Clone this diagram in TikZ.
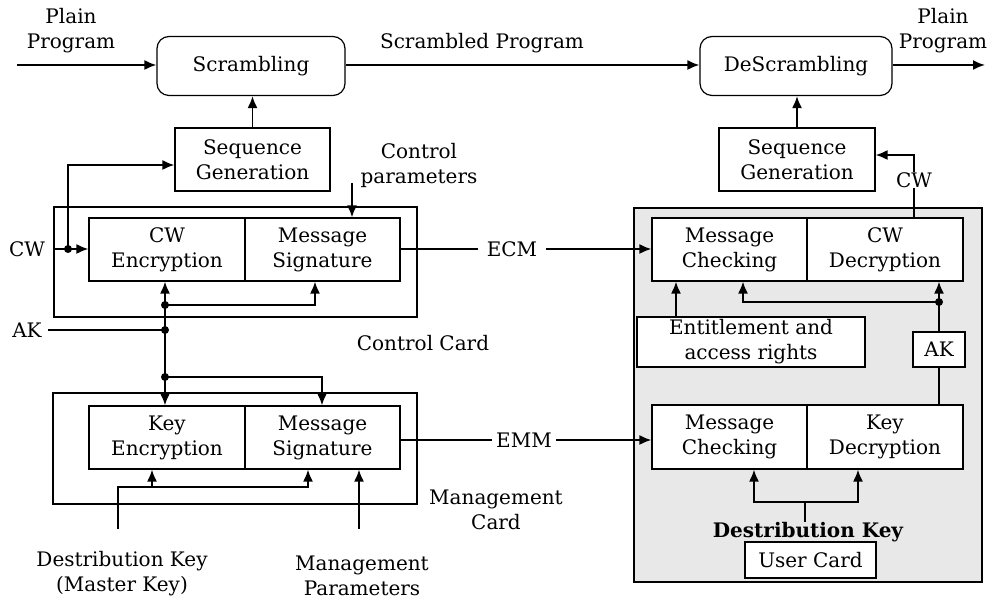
\documentclass[tikz,border=0pt]{standalone}
\usepackage{fontspec}
\setmainfont{DejaVu Serif}
\usetikzlibrary{arrows.meta}
\begin{document}
\begin{tikzpicture}[x=0.5pt,y=-0.5pt,
  every node/.style={font=\fontsize{10}{12.5}\selectfont, inner sep=0pt, align=center},
  box/.style 2 args={draw, line width=0.6pt, fill=white, minimum width=#1*0.5pt, minimum height=#2*0.5pt},
  rbox/.style 2 args={box={#1}{#2}, rounded corners=6pt},
  cardframe/.style 2 args={draw, line width=0.8pt, minimum width=#1*0.5pt, minimum height=#2*0.5pt},
  conn/.style={line width=0.9pt},
  arr/.style={conn, -{Latex[length=6pt,width=5pt]}},
  jdot/.style={circle, fill, inner sep=0pt, minimum size=4pt}
]
\useasboundingbox (0,0) rectangle (991,603);
% card frames
\node[cardframe={363}{110}] (ccard) at (235.5,262) {};
\node[cardframe={364}{111}] (mcard) at (235,448.5) {};
\node[cardframe={348}{374}, fill=black!9] (ucard) at (808,395) {};
% boxes
\node[rbox={188}{59}] (scr) at (251,66) {Scrambling};
\node[rbox={192}{59}] (descr) at (796,66) {DeScrambling};
\node[box={155}{63}] (seqL) at (252.5,159.5) {Sequence\\Generation};
\node[box={156}{63}] (seqR) at (797,159.5) {Sequence\\Generation};
\node[box={156}{63}] (cwenc) at (167,249.5) {CW\\Encryption};
\node[box={155}{63}] (msig1) at (322.5,249.5) {Message\\Signature};
\node[box={156}{63}] (keyenc) at (167,437.5) {Key\\Encryption};
\node[box={155}{63}] (msig2) at (322.5,437.5) {Message\\Signature};
\node[box={155}{63}] (mchk1) at (729.5,249.5) {Message\\Checking};
\node[box={156}{63}] (cwdec) at (885,249.5) {CW\\Decryption};
\node[box={228}{50}] (ent) at (751,342) {Entitlement and\\access rights};
\node[box={52}{35}] (akb) at (939,349.5) {AK};
\node[box={155}{64}] (mchk2) at (729.5,437) {Message\\Checking};
\node[box={156}{64}] (keydec) at (885,437) {Key\\Decryption};
\node[box={131}{36}] (ucb) at (810.5,560) {User Card};
% labels
\node (plainL) at (71,31) {Plain\\Program};
\node (scrp) at (482,43) {Scrambled Program};
\node (plainR) at (943,31) {Plain\\Program};
\node (ctrlp) at (419,165) {Control\\parameters};
\node (cwL) at (27,249) {CW};
\node (akL) at (27,330) {AK};
\node (ccl) at (423,343) {Control Card};
\node (mcl) at (496,510) {Management\\Card};
\node (ecm) at (512,249) {ECM};
\node (emm) at (524,440) {EMM};
\node (cwR) at (914,180) {CW};
\node (dkL) at (122,574) {Destribution Key\\(Master Key)};
\node (mpL) at (362,576) {Management\\Parameters};
\node[font=\fontsize{10}{12.5}\selectfont\bfseries] (dkR) at (808,532) {Destribution Key};
% coordinates
\coordinate (pin) at (17,65);
\coordinate (pout) at (985,65);
\coordinate (cwdot) at (68,249);
\coordinate (cwup) at (68,165);
\coordinate (cpTop) at (352,183);
\coordinate (akdot) at (165,330);
\coordinate (akd2) at (165,305);
\coordinate (akm1) at (315,305);
\coordinate (akd3) at (165,377);
\coordinate (akm2) at (322,377);
\coordinate (dkb) at (118,529);
\coordinate (dkc) at (118,487);
\coordinate (dkm) at (308,487);
\coordinate (dkk) at (152,487);
\coordinate (mpb) at (359,529);
\coordinate (cwRt) at (914,155);
\coordinate (rdot) at (939,302);
\coordinate (rmc) at (743,302);
\coordinate (entx) at (676,317);
\coordinate (dkRl) at (754,502);
\coordinate (dkRr) at (858,502);
\coordinate (dkRm) at (805,502);
% connectors
\draw[arr] (pin) -- (pin -| scr.west);
\draw[arr] (scr.east |- pin) -- (pin -| descr.west);
\draw[arr] (descr.east |- pout) -- (pout);
\draw[arr] (seqL.north) -- (seqL.north |- scr.south);
\draw[arr] (seqR.north) -- (seqR.north |- descr.south);
\draw[conn, shorten <=4pt] (cwL.east) -- (cwdot);
\draw[arr] (cwdot) -- (cwdot -| cwenc.west);
\draw[arr] (cwdot) -- (cwup) -- (cwup -| seqL.west);
\draw[arr] (cpTop) -- (cpTop |- msig1.north);
\draw[conn, shorten >=4pt] (msig1.east |- ecm) -- (ecm.west);
\draw[arr, shorten <=4pt] (ecm.east) -- (ecm.east -| mchk1.west);
\draw[conn, shorten <=3pt] (akL.east) -- (akdot);
\draw[arr] (akdot) -- (akdot |- cwenc.south);
\draw[arr] (akd2) -- (akm1) -- (akm1 |- msig1.south);
\draw[arr] (akdot) -- (akdot |- keyenc.north);
\draw[arr] (akd3) -- (akm2) -- (akm2 |- msig2.north);
\draw[conn, shorten >=2pt] (msig2.east |- emm) -- (emm.west);
\draw[arr, shorten <=2pt] (emm.east) -- (emm.east -| mchk2.west);
\draw[arr] (dkb) -- (dkc) -- (dkm) -- (dkm |- msig2.south);
\draw[arr] (dkk) -- (dkk |- keyenc.south);
\draw[arr] (mpb) -- (mpb |- msig2.south);
\draw[conn] (cwdec.north -| cwR) -- (cwR.south);
\draw[arr] (cwR.north) -- (cwRt) -- (cwRt -| seqR.east);
\draw[arr] (entx |- ent.north) -- (entx |- mchk1.south);
\draw[arr] (akb.north) -- (akb.north |- cwdec.south);
\draw[arr] (rdot) -- (rmc) -- (rmc |- mchk1.south);
\draw[conn] (akb.south) -- (akb.south |- keydec.north);
\draw[conn] (dkRm) -- (dkRm |- dkR.north);
\draw[arr] (dkRm) -- (dkRl) -- (dkRl |- mchk2.south);
\draw[arr] (dkRm) -- (dkRr) -- (dkRr |- keydec.south);
% junction dots
\node[jdot] (j1) at (cwdot) {};
\node[jdot] (j2) at (akdot) {};
\node[jdot] (j3) at (akd2) {};
\node[jdot] (j4) at (akd3) {};
\node[jdot] (j5) at (rdot) {};
\end{tikzpicture}
\end{document}
